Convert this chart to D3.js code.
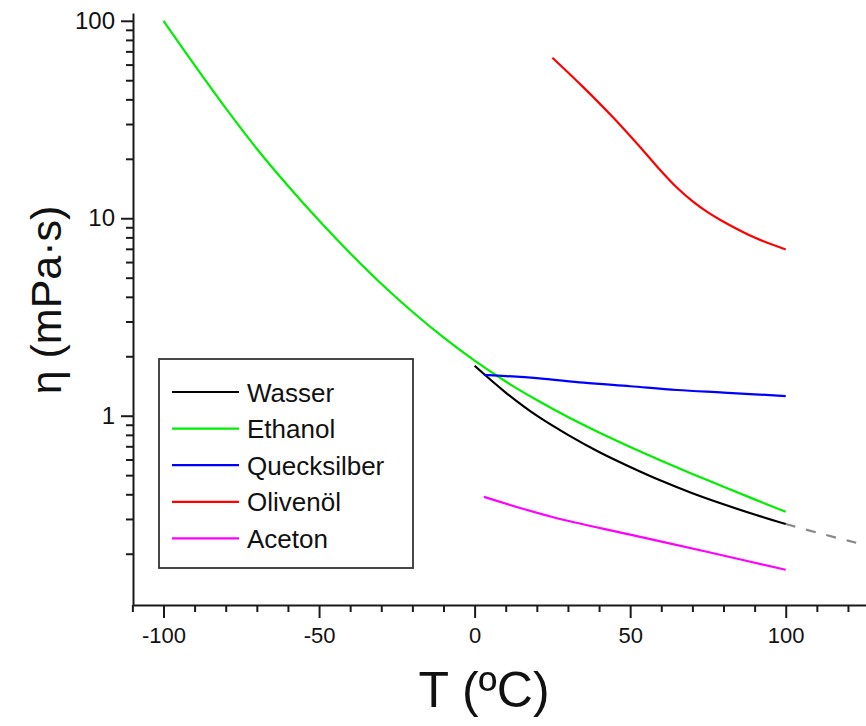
<!DOCTYPE html>
<html><head><meta charset="utf-8">
<script src="https://cdn.jsdelivr.net/npm/d3@7"></script>
<style>
html,body{margin:0;padding:0;background:#fff;}
svg{display:block;font-family:"Liberation Sans",Arial,sans-serif;}
</style></head>
<body>
<svg id="c" width="866" height="726"></svg>
<script>
// ---- data ----
const wasserT = [0,10,20,30,40,50,60,70,80,90,100];
const wasserV = [1.79,1.31,1.00,0.80,0.655,0.55,0.468,0.405,0.356,0.316,0.283];
const wasserExtT = [100,110,120,130];
const wasserExtV = [0.283,0.256,0.233,0.213];
const ethanolT = [-100,-90,-80,-70,-60,-50,-40,-30,-20,-10,0,10,20,30,40,50,60,70,80,90,100];
const ethanolV = [100,59.6,36.1,22.5,14.6,9.73,6.65,4.66,3.36,2.49,1.90,1.49,1.20,0.984,0.822,0.695,0.592,0.507,0.437,0.377,0.326];
const quecksilberT = [3,20,35,50,65,80,100];
const quecksilberV = [1.61,1.55,1.47,1.41,1.35,1.31,1.258];
const olivenoelT = [25,35,45,55,60,65,70,75,80,90,100];
const olivenoelV = [65,46.0,31.8,21.3,17.3,14.3,12.2,10.7,9.6,7.98,6.95];
const acetonT = [3,25,50,75,100];
const acetonV = [0.388,0.307,0.25,0.204,0.166];
const seriesNames = ["Wasser","Ethanol","Quecksilber","Olivenöl","Aceton"];
const seriesColors = ["#000000","#00ee00","#0000ff","#ff0000","#ff00ff"];
const xMajorTicks = [-100,-50,0,50,100];
const xMinorTicks = [-110,-90,-80,-70,-60,-40,-30,-20,-10,10,20,30,40,60,70,80,90,110,120];
const yMajorTicks = [1,10,100];
const yMinorTicks = [0.2,0.3,0.4,0.5,0.6,0.7,0.8,0.9,2,3,4,5,6,7,8,9,20,30,40,50,60,70,80,90];

// ---- scales ----
const svg = d3.select("#c");
const x = d3.scaleLinear().domain([-109.8,125.8]).range([133,866]);
const y = d3.scaleLog().domain([0.110,109.5]).range([605,13]);

const axisColor = "#1a1a1a";
// x axis
const gx = svg.append("g").attr("transform","translate(0,605)");
gx.call(d3.axisBottom(x).tickValues(xMajorTicks).tickSize(13).tickSizeOuter(0).tickPadding(9).tickFormat(d=>String(d)));
gx.append("g").call(d3.axisBottom(x).tickValues(xMinorTicks).tickSize(7).tickFormat("")).select(".domain").remove();
gx.selectAll("path,line").attr("stroke",axisColor).attr("stroke-width",2);
gx.selectAll("text").attr("font-size",22).attr("fill","#111").attr("font-family","Liberation Sans, Arial, sans-serif");

// y axis
const gy = svg.append("g").attr("transform","translate(133,0)");
gy.call(d3.axisLeft(y).tickValues(yMajorTicks).tickSize(12).tickSizeOuter(0).tickPadding(6).tickFormat(d=>String(d)));
gy.append("g").call(d3.axisLeft(y).tickValues(yMinorTicks).tickSize(7).tickFormat("")).select(".domain").remove();
gy.selectAll("path,line").attr("stroke",axisColor).attr("stroke-width",2);
gy.selectAll("text").attr("font-size",24).attr("fill","#111").attr("font-family","Liberation Sans, Arial, sans-serif");

// axis titles
svg.append("text").attr("x",484).attr("y",707).attr("text-anchor","middle")
  .attr("font-size",50).attr("fill","#111").text("T (ºC)");
svg.append("text").attr("transform","translate(61,300) rotate(-90)").attr("text-anchor","middle")
  .attr("font-size",43).attr("fill","#111").text("η (mPa·s)");

// ---- lines ----
const line = d3.line().x(d=>x(d[0])).y(d=>y(d[1])).curve(d3.curveCatmullRom.alpha(0.5));
const zip = (a,b)=>a.map((t,i)=>[t,b[i]]);
const plotArea = svg.append("g");
svg.append("clipPath").attr("id","clip").append("rect").attr("x",133).attr("y",0).attr("width",733).attr("height",605);

plotArea.append("path").datum(zip(wasserExtT,wasserExtV)).attr("d",line)
  .attr("fill","none").attr("stroke","#888").attr("stroke-width",2.2).attr("stroke-dasharray","10,11")
  .attr("clip-path","url(#clip)");

const all = [zip(wasserT,wasserV), zip(ethanolT,ethanolV), zip(quecksilberT,quecksilberV), zip(olivenoelT,olivenoelV), zip(acetonT,acetonV)];
[1,0,2,3,4].forEach(i=>{
  plotArea.append("path").datum(all[i]).attr("d",line)
    .attr("fill","none").attr("stroke",seriesColors[i]).attr("stroke-width",2.2)
    .attr("stroke-linejoin","round");
});

// ---- legend ----
const lg = svg.append("g");
lg.append("rect").attr("x",159).attr("y",359).attr("width",254).attr("height",209)
  .attr("fill","#fff").attr("stroke","#333").attr("stroke-width",1.8);
seriesNames.forEach((n,i)=>{
  const yy = 392 + i*36.6;
  lg.append("line").attr("x1",172).attr("x2",239).attr("y1",yy).attr("y2",yy)
    .attr("stroke",seriesColors[i]).attr("stroke-width",2.2);
  lg.append("text").attr("x",247).attr("y",yy+9.5).attr("font-size",26).attr("fill","#111").text(n);
});
</script>
</body></html>
